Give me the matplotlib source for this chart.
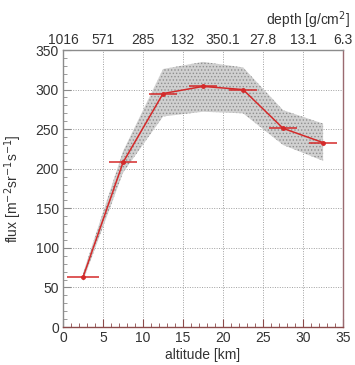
import matplotlib
matplotlib.use("Agg")
import matplotlib.pyplot as plt
from matplotlib.ticker import MultipleLocator

plt.rcParams['font.family'] = ['Liberation Sans', 'DejaVu Sans']
plt.rcParams['hatch.color'] = '#8a8a8a'
plt.rcParams['hatch.linewidth'] = 0.6

altitude = [2.5, 7.5, 12.5, 17.5, 22.5, 27.5, 32.5]
flux = [63, 208, 295, 304, 300, 251, 233]
alt_err = [2.0, 1.75, 1.75, 1.75, 1.75, 1.75, 1.75]
band_upper = [68, 222, 326, 335, 328, 274, 257]
band_lower = [58, 195, 266, 272, 270, 230, 210]
top_ticks = [0, 5, 10, 15, 20, 25, 30, 35]
top_labels = ['1016', '571', '285', '132', '350.1', '27.8', '13.1', '6.3']

red = '#d42a2a'
axis_red = '#8c4a4a'
gray = '#8c8c8c'

fig = plt.figure(figsize=(3.55, 3.65), dpi=100)
ax = fig.add_axes([0.1775, 0.104, 0.789, 0.759])

ax.fill_between(altitude, band_lower, band_upper, facecolor='#d0d0d0',
                edgecolor='#8f8f8f', hatch='.....', linewidth=0, zorder=1)
ax.errorbar(altitude, flux, xerr=alt_err, color=red, marker='o', markersize=2.5,
            linewidth=1.1, elinewidth=1.1, capsize=0, zorder=3)

ax.set_xlim(0, 35)
ax.set_ylim(0, 350)
ax.xaxis.set_major_locator(MultipleLocator(5))
ax.xaxis.set_minor_locator(MultipleLocator(1))
ax.yaxis.set_major_locator(MultipleLocator(50))
ax.yaxis.set_minor_locator(MultipleLocator(10))
ax.grid(True, which='major', linestyle=(0, (1, 1.5)), color='#a0a0a0', linewidth=0.7, zorder=0)
ax.set_axisbelow(True)

ax.tick_params(axis='x', which='major', direction='in', length=6, color=axis_red,
               labelsize=10, pad=3, labelcolor='#333333')
ax.tick_params(axis='x', which='minor', direction='in', length=3, color=axis_red)
ax.tick_params(axis='y', which='major', direction='in', length=6, color=gray,
               labelsize=10, pad=3, labelcolor='#333333')
ax.tick_params(axis='y', which='minor', direction='in', length=3, color=gray)

ax.spines['left'].set_color(gray)
ax.spines['top'].set_color(gray)
ax.spines['bottom'].set_color(axis_red)
ax.spines['right'].set_color('#9a6a70')
for s in ax.spines.values():
    s.set_linewidth(1.0)

ax.set_xlabel('altitude [km]', fontsize=10, color='#333333', labelpad=2)
ax.set_ylabel('flux [m$^{-2}$sr$^{-1}$s$^{-1}$]', fontsize=10, color='#333333', labelpad=8)

ax2 = ax.twiny()
ax2.set_xlim(0, 35)
ax2.set_xticks(top_ticks)
ax2.set_xticklabels(top_labels)
ax2.tick_params(axis='x', direction='in', length=0, labelsize=10, pad=2, labelcolor='#333333')
for s in ax2.spines.values():
    s.set_visible(False)

fig.text(350 / 355, 1 - 20 / 365, 'depth [g/cm$^2$]', fontsize=10, color='#333333',
         ha='right', va='center')

fig.savefig('out.png', dpi=100)
